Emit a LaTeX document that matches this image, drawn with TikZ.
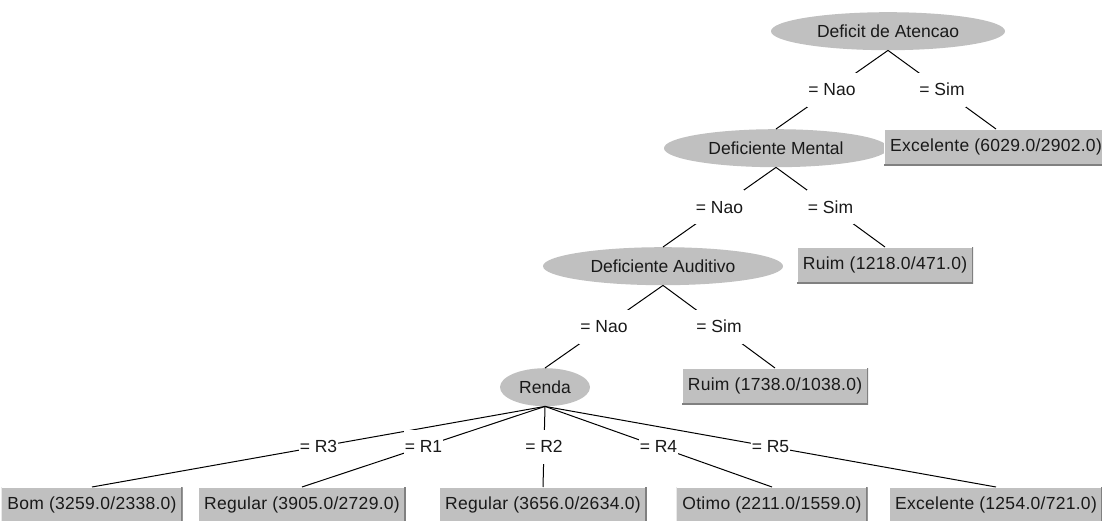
\documentclass[tikz,border=0pt]{standalone}
\usepackage{fontspec}
\setmainfont{Liberation Sans}
\newfontfamily\leaffont[LetterSpace=1.6]{Liberation Sans}
\usetikzlibrary{shapes.geometric}
\definecolor{nodegray}{RGB}{192,192,192}
\definecolor{edgedark}{RGB}{128,128,128}
\tikzset{
  x=1pt, y=-1pt,
  treefont/.style={font=\fontsize{17.5}{20}\selectfont},
  ell/.style={ellipse, fill=nodegray, draw=none, inner sep=0pt, minimum height=38pt, treefont, text=black!90},
  leaf/.style={rectangle, fill=nodegray, draw=none, inner xsep=6pt, inner ysep=0pt, minimum height=36pt,
    font=\leaffont\fontsize{17.5}{20}\selectfont, text=black!90,
    path picture={
      \draw[white, line width=2pt] (path picture bounding box.south west) -- (path picture bounding box.north west) -- (path picture bounding box.north east);
      \draw[edgedark, line width=3pt] (path picture bounding box.north east) -- (path picture bounding box.south east) -- (path picture bounding box.south west);
    }},
  lab/.style={fill=white, inner xsep=1pt, inner ysep=0pt, minimum height=34pt, treefont, text=black!90},
  edge/.style={draw=black, line width=1pt}
}
\begin{document}
\begin{tikzpicture}
\useasboundingbox[fill=white] (0,0) rectangle (1102,521);
% nodes
\node[ell, minimum width=234pt, anchor=north] (root) at (888,12) {Deficit de Atencao};
\node[ell, minimum width=224pt, anchor=north] (dm) at (776,129) {Deficiente Mental};
\node[leaf, anchor=north] (l1) at (996,129) {Excelente (6029.0/2902.0)};
\node[ell, minimum width=240pt, anchor=north] (da) at (663,247) {Deficiente Auditivo};
\node[leaf, anchor=north] (l2) at (885,247) {Ruim (1218.0/471.0)};
\node[ell, minimum width=90pt, anchor=north] (renda) at (545,368) {Renda};
\node[leaf, anchor=north] (l3) at (775,368) {Ruim (1738.0/1038.0)};
\node[leaf, anchor=north] (b1) at (92,487) {Bom (3259.0/2338.0)};
\node[leaf, anchor=north] (b2) at (302,487) {Regular (3905.0/2729.0)};
\node[leaf, anchor=north] (b3) at (543,487) {Regular (3656.0/2634.0)};
\node[leaf, anchor=north] (b4) at (772,487) {Otimo (2211.0/1559.0)};
\node[leaf, anchor=north] (b5) at (996,487) {Excelente (1254.0/721.0)};
% edges
\draw[edge] (root.south) -- node[lab] {= Nao} (dm.north);
\draw[edge] (root.south) -- node[lab] {= Sim} (l1.north);
\draw[edge] (dm.south) -- node[lab] {= Nao} (da.north);
\draw[edge] (dm.south) -- node[lab] {= Sim} (l2.north);
\draw[edge] (da.south) -- node[lab] {= Nao} (renda.north);
\draw[edge] (da.south) -- node[lab] {= Sim} (l3.north);
\draw[edge] (renda.south) -- node[lab] {= R3} (b1.north);
\draw[edge] (renda.south) -- node[lab] {= R1} (b2.north);
\draw[edge] (renda.south) -- node[lab] {= R2} (b3.north);
\draw[edge] (renda.south) -- node[lab] {= R4} (b4.north);
\draw[edge] (renda.south) -- node[lab] {= R5} (b5.north);
\end{tikzpicture}
\end{document}
